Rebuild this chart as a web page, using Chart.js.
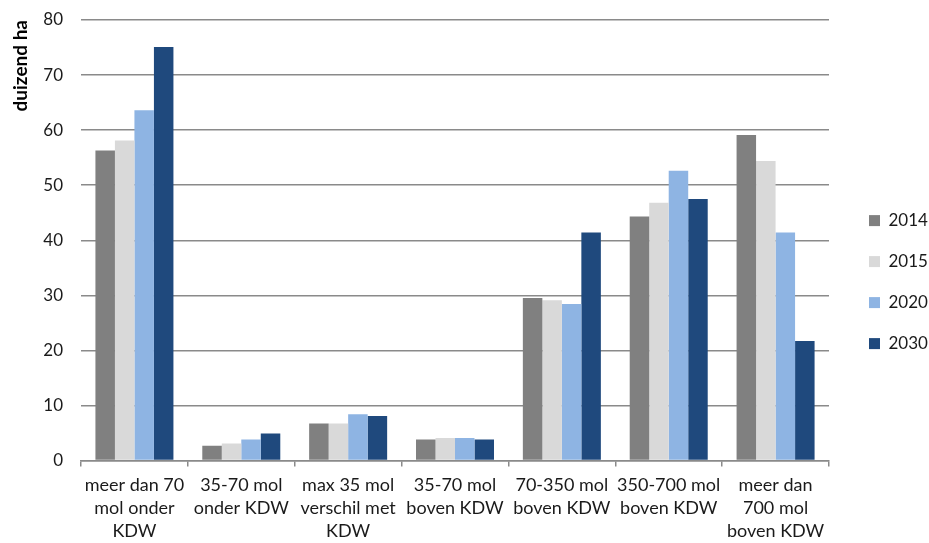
<!DOCTYPE html>
<html>
<head>
<meta charset="utf-8">
<script src="https://cdn.jsdelivr.net/npm/chart.js@4"></script>
<style>
  html, body { margin: 0; padding: 0; background: #ffffff; }
  #wrap { width: 929px; height: 543px; }
</style>
</head>
<body>
<div id="wrap"><canvas id="c" width="929" height="543"></canvas></div>
<script>
// Area per class of difference from the critical deposition value (KDW), thousand ha
const categories = [
  ['meer dan 70', 'mol onder', 'KDW'],
  ['35-70 mol', 'onder KDW'],
  ['max 35 mol', 'verschil met', 'KDW'],
  ['35-70 mol', 'boven KDW'],
  ['70-350 mol', 'boven KDW'],
  ['350-700 mol', 'boven KDW'],
  ['meer dan', '700 mol', 'boven KDW']
];
const years = ['2014', '2015', '2020', '2030'];
const values2014 = [56.3, 2.7, 6.7, 3.8, 29.5, 44.3, 59.1];
const values2015 = [58.1, 3.1, 6.7, 4.1, 29.1, 46.8, 54.4];
const values2020 = [63.6, 3.8, 8.4, 4.1, 28.4, 52.6, 41.4];
const values2030 = [75.1, 4.9, 8.1, 3.8, 41.4, 47.5, 21.7];
const yAxisTitle = 'duizend ha';
const yMax = 80;
const yStep = 10;

const seriesValues = [values2014, values2015, values2020, values2030];
const seriesColors = ['#808080', '#d9d9d9', '#8eb4e3', '#1f497d'];
const FONT = 'Lato, "Open Sans", "Noto Sans", sans-serif';
const GRID = '#8a8a8a';
const TEXT = '#1a1a1a';

new Chart(document.getElementById('c'), {
  type: 'bar',
  data: {
    labels: categories,
    datasets: years.map((y, i) => ({
      label: y,
      data: seriesValues[i],
      backgroundColor: seriesColors[i],
      borderWidth: 0,
      yAxisID: 'y',
      categoryPercentage: 0.73,
      barPercentage: 1.0
    }))
  },
  options: {
    responsive: false,
    animation: false,
    devicePixelRatio: 1,
    layout: { padding: { top: 20, right: 0, left: 0, bottom: 0 } },
    plugins: {
      tooltip: { enabled: false },
      legend: {
        position: 'right',
        maxWidth: 84,
        title: {
          // blank spacer line that pushes the entries down a little
          display: true,
          text: ' ',
          font: { size: 1 },
          padding: 0
        },
        labels: {
          font: { family: FONT, size: 17 },
          color: TEXT,
          boxWidth: 11,
          boxHeight: 11,
          padding: 24
        }
      }
    },
    scales: {
      x: {
        grid: {
          offset: true,
          drawOnChartArea: false,
          drawTicks: true,
          tickLength: 6,
          color: GRID,
          lineWidth: 1.5
        },
        border: { display: true, color: GRID, width: 1.5 },
        ticks: {
          font: { family: FONT, size: 18, lineHeight: 1.28 },
          color: TEXT,
          maxRotation: 0,
          autoSkip: false,
          padding: 7
        },
        afterFit: (s) => { s.height = 82.5; }
      },
      y: {
        position: 'left',
        min: 0,
        max: yMax,
        grid: {
          color: GRID,
          lineWidth: 1.5,
          drawTicks: true,
          tickLength: 18,
          tickColor: 'rgba(0,0,0,0)'
        },
        border: { display: false },
        ticks: {
          stepSize: yStep,
          font: { family: FONT, size: 17 },
          color: TEXT,
          padding: 0
        },
        title: {
          display: true,
          text: yAxisTitle,
          align: 'end',
          font: { family: FONT, size: 19, weight: 'bold' },
          color: '#000',
          padding: { top: 9, bottom: 0 }
        },
        afterFit: (s) => { s.width = 81; }
      },
      // empty spacer between the plot and the legend
      gap: {
        type: 'linear',
        position: 'right',
        display: true,
        grid: { display: false },
        border: { display: false },
        ticks: { display: false },
        afterFit: (s) => { s.width = 16; }
      }
    }
  }
});
</script>
</body>
</html>
